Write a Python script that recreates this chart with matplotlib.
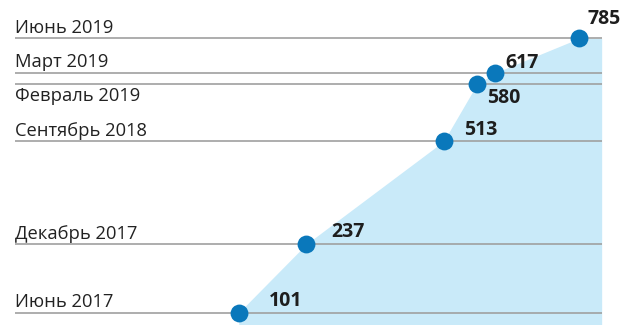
import matplotlib
matplotlib.use("Agg")
import matplotlib.pyplot as plt
import numpy as np

# Data
periods = ["2017-06", "2017-12", "2018-09", "2019-02", "2019-03", "2019-06"]
period_labels = ["Июнь 2017", "Декабрь 2017", "Сентябрь 2018", "Февраль 2019", "Март 2019", "Июнь 2019"]
values = [101, 237, 513, 580, 617, 785]

# month index relative to first period
def month_index(p):
    y, m = p.split("-")
    return int(y) * 12 + int(m)
base = month_index(periods[0])
months = np.array([month_index(p) - base for p in periods], dtype=float)
vals = np.array(values, dtype=float)

# layout (value-axis horizontally, time vertically)
X_LEFT, X_RIGHT = -348.7, 830.6
XLIM = (-378.8, 875.5)
YLIM = (-1.076, 27.36)
label_offsets = [(47, 12), (42, 12), (37, 11), (27, -14), (27, 10), (25, 19)]
label_below = [False, False, False, True, False, False]

fig = plt.figure(figsize=(6.24, 3.25), dpi=100)
ax = fig.add_axes([0, 0, 1, 1])
ax.set_xlim(*XLIM)
ax.set_ylim(*YLIM)
ax.axis("off")

fill_y = np.concatenate([[YLIM[0]], months])
fill_x = np.concatenate([[vals[0]], vals])
ax.fill_betweenx(fill_y, fill_x, X_RIGHT, color="#c9eaf9", lw=0, zorder=1)

for m, lab, below in zip(months, period_labels, label_below):
    ax.hlines(m, X_LEFT, X_RIGHT, color="#a0a0a0", lw=1.2, zorder=2)
    ax.annotate(lab, (X_LEFT, m), xytext=(0, -3 if below else 1.5), textcoords="offset pixels",
                ha="left", va="top" if below else "bottom", fontsize=13.2,
                family="Open Sans", color="#222222")

ax.scatter(vals, months, s=165, color="#0a78bb", zorder=4, linewidths=0)

for v, m, (dx, dy) in zip(values, months, label_offsets):
    ax.annotate(str(v), (v, m), xytext=(dx, dy), textcoords="offset pixels",
                ha="center", va="center", fontsize=14, fontweight="bold",
                family="Open Sans", color="#1e1e1e", zorder=5)

fig.savefig("out.png", dpi=100)
